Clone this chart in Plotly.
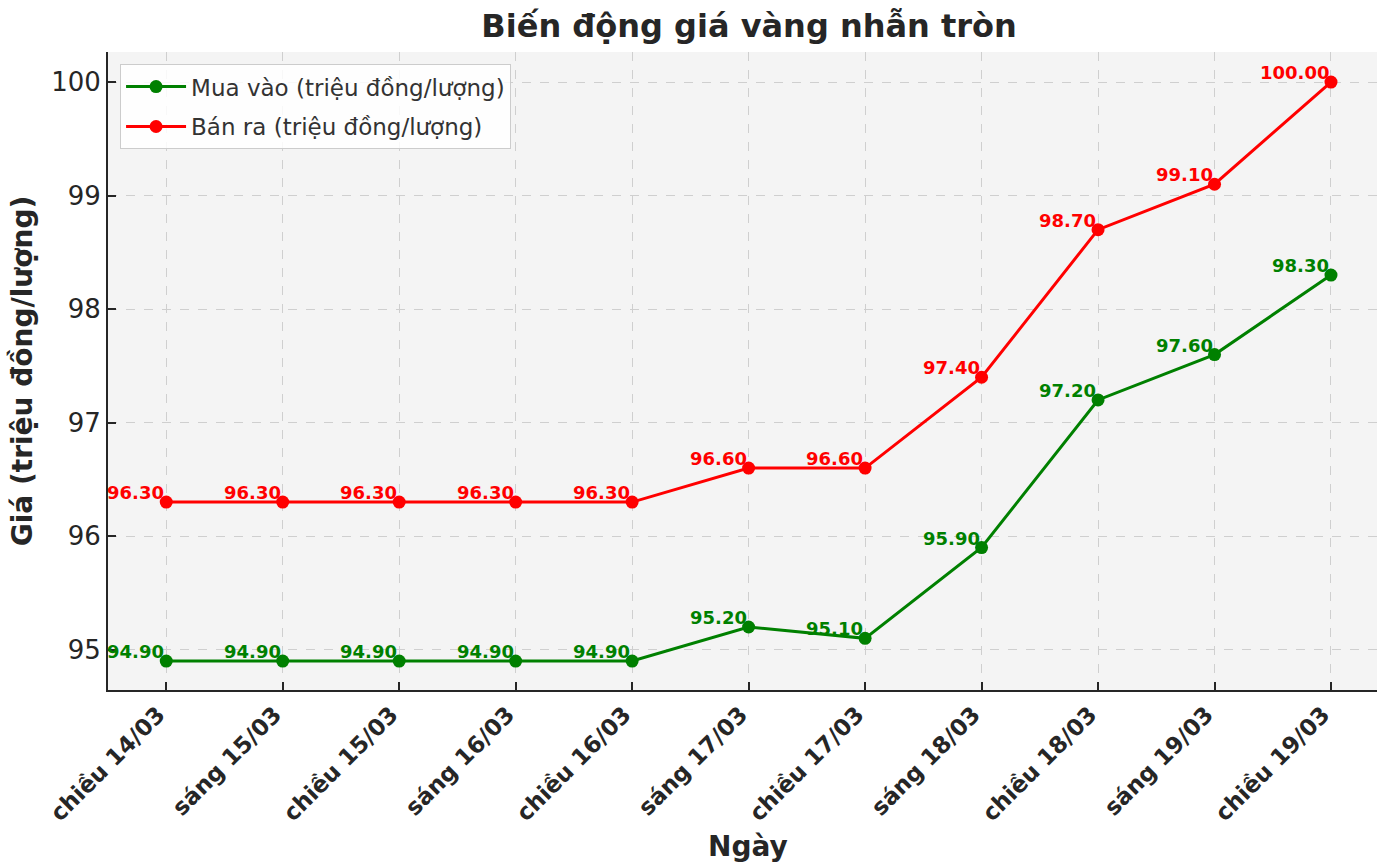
import plotly.graph_objects as go

# ---- data ----
dates = ["chiều 14/03", "sáng 15/03", "chiều 15/03", "sáng 16/03", "chiều 16/03",
         "sáng 17/03", "chiều 17/03", "sáng 18/03", "chiều 18/03", "sáng 19/03", "chiều 19/03"]
mua_vao = [94.9, 94.9, 94.9, 94.9, 94.9, 95.2, 95.1, 95.9, 97.2, 97.6, 98.3]
ban_ra = [96.3, 96.3, 96.3, 96.3, 96.3, 96.6, 96.6, 97.4, 98.7, 99.1, 100.0]
y_ticks = [95, 96, 97, 98, 99, 100]

FONT = "DejaVu Sans"
GREEN = "#008000"
RED = "#ff0000"
DARK = "#262626"

x_idx = list(range(len(dates)))

fig = go.Figure()
fig.add_trace(go.Scatter(
    x=x_idx, y=mua_vao, mode="lines+markers", name="Mua vào (triệu đồng/lượng)",
    line=dict(color=GREEN, width=3), marker=dict(color=GREEN, size=13),
    legendgroup="a"))
fig.add_trace(go.Scatter(
    x=x_idx, y=ban_ra, mode="lines+markers", name="Bán ra (triệu đồng/lượng)",
    line=dict(color=RED, width=3), marker=dict(color=RED, size=13),
    legendgroup="b"))

annotations = []
for series, color in ((mua_vao, GREEN), (ban_ra, RED)):
    for xi, v in zip(x_idx, series):
        annotations.append(dict(
            x=xi, y=v, xref="x", yref="y", text=f"{v:.2f}", showarrow=False,
            xanchor="right", yanchor="bottom", xshift=0, yshift=-3,
            font=dict(family=FONT, size=18, color=color, weight="bold")))

# x-axis title (placed at the centre of the matplotlib-style axis)
annotations.append(dict(
    text="Ngày", x=0.5047, y=0, xref="paper", yref="paper", xanchor="center",
    yanchor="top", yshift=-138, showarrow=False,
    font=dict(family=FONT, size=28, color=DARK, weight="bold")))

fig.update_layout(
    width=1377, height=865,
    margin=dict(l=108, r=0, t=52, b=175),
    paper_bgcolor="white", plot_bgcolor="#f4f4f4",
    font=dict(family=FONT, color=DARK),
    title=dict(text="Biến động giá vàng nhẫn tròn", x=0.544, xanchor="center",
               y=0.983, yanchor="top",
               font=dict(family=FONT, size=32, color=DARK, weight="bold")),
    showlegend=True,
    legend=dict(x=0.0095, y=0.981, xanchor="left", yanchor="top",
                bgcolor="rgba(255,255,255,0.85)", bordercolor="#cccccc", borderwidth=1,
                font=dict(family=FONT, size=23, color="#333333"),
                tracegroupgap=7, itemwidth=60),
    annotations=annotations,
)

fig.update_xaxes(
    range=[-0.5, 10.395], tickmode="array", tickvals=x_idx, ticktext=dates,
    tickangle=-45, tickfont=dict(family=FONT, size=23, color=DARK, weight="bold"),
    ticklabelshift=-8,
    ticks="inside", ticklen=8, tickwidth=1.5, tickcolor=DARK,
    showline=True, linecolor=DARK, linewidth=2, mirror=False,
    showgrid=True, gridcolor="#cfcfcf", griddash="dash", gridwidth=1, zeroline=False)
fig.update_yaxes(
    range=[94.645, 100.265], tickmode="array", tickvals=y_ticks,
    ticktext=[str(t) for t in y_ticks],
    tickfont=dict(family=FONT, size=26, color=DARK),
    ticks="inside", ticklen=8, tickwidth=1.5, tickcolor=DARK,
    showline=True, linecolor=DARK, linewidth=2, mirror=False,
    showgrid=True, gridcolor="#cfcfcf", griddash="dash", gridwidth=1, zeroline=False,
    title=dict(text="Giá (triệu đồng/lượng)",
               font=dict(family=FONT, size=28, color=DARK, weight="bold"), standoff=10))

fig.write_html("out.html")
